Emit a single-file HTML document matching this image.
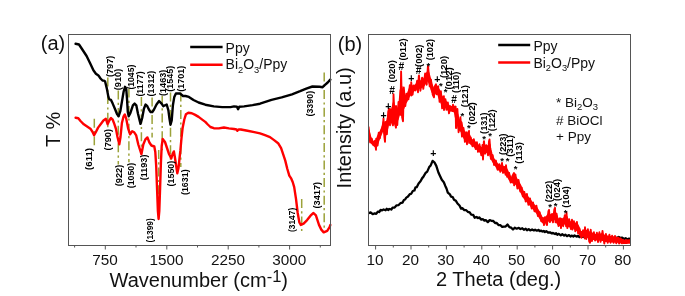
<!DOCTYPE html><html><head><meta charset="utf-8"><style>html,body{margin:0;padding:0;background:#fff;}body{width:685px;height:296px;overflow:hidden;}svg{display:block;filter:blur(0.35px);}</style></head><body><svg width="685" height="296" viewBox="0 0 685 296" font-family='"Liberation Sans", sans-serif' fill="#000">
<rect width="685" height="296" fill="#fff"/>
<defs><clipPath id="cb"><rect x="368.5" y="34.5" width="262" height="211"/></clipPath><clipPath id="ca"><rect x="68.5" y="34.5" width="262" height="211"/></clipPath></defs>
<g stroke="#9ca23a" stroke-width="1.5" stroke-dasharray="9 3.3 2.2 3.1" fill="none">
<line x1="94.3" y1="118.8" x2="94.3" y2="145.2"/>
<line x1="107.8" y1="77.5" x2="107.8" y2="127.6"/>
<line x1="118.3" y1="90.5" x2="118.3" y2="164.4"/>
<line x1="128.9" y1="88.5" x2="128.9" y2="162.3"/>
<line x1="141.4" y1="97" x2="141.4" y2="154"/>
<line x1="152.1" y1="97.5" x2="152.1" y2="137.5"/>
<line x1="158.7" y1="150" x2="158.7" y2="214"/>
<line x1="162.2" y1="96" x2="162.2" y2="150.3"/>
<line x1="170.5" y1="92.5" x2="170.5" y2="160"/>
<line x1="180.8" y1="92.5" x2="180.8" y2="167"/>
<line x1="301.7" y1="199" x2="301.7" y2="232"/>
<line x1="324.2" y1="72.5" x2="324.2" y2="232"/>
</g>
<polyline points="75.6,43.8 79.0,44.5 82.0,49.0 86.6,56.0 90.0,63.0 93.4,70.3 95.9,73.7 98.4,75.4 100.5,78.5 102.5,80.5 104.0,80.6 105.1,81.5 106.8,88.4 108.4,96.9 109.3,99.4 111.0,99.9 112.7,103.6 115.2,109.5 116.9,113.8 118.6,116.3 120.3,111.2 121.9,101.9 123.6,91.8 125.0,86.8 126.2,88.4 127.0,98.6 127.8,112.1 128.7,116.3 130.4,112.9 132.9,105.3 134.6,103.6 136.3,105.3 138.0,113.8 140.5,123.9 142.2,118.0 143.9,108.7 145.6,104.5 147.3,106.2 148.9,109.5 150.6,112.1 152.3,112.1 154.0,109.5 156.5,104.5 159.1,101.1 161.6,103.6 163.3,106.2 165.0,105.3 166.7,104.5 168.4,110.4 169.5,118.8 170.5,124.7 171.7,120.5 172.9,105.3 174.3,96.9 175.9,93.5 180.0,93.5 183.0,96.0 185.5,96.0 188.9,96.9 193.5,100.0 198.6,102.5 205.3,104.7 213.8,106.4 222.2,107.1 230.6,107.1 234.0,106.4 236.9,106.7 238.1,109.2 239.3,106.8 244.1,106.4 252.6,105.1 260.0,103.7 271.5,99.8 281.7,97.4 292.0,94.3 300.1,91.2 306.3,88.6 312.4,86.5 319.6,86.8 322.6,87.2 324.7,85.1 327.7,82.5 330.3,79.6" fill="none" stroke="#000" stroke-width="2.4" stroke-linejoin="round" stroke-linecap="round"/>
<polyline points="75.6,117.7 78.3,118.2 80.5,121.0 83.8,124.3 87.1,126.5 90.4,128.7 92.6,132.0 94.1,135.3 95.9,132.0 98.1,127.6 101.4,123.2 103.4,120.5 105.9,118.8 107.6,124.2 109.3,120.5 111.0,118.0 112.7,119.7 114.3,123.9 116.0,129.0 117.5,137.0 119.3,144.3 120.5,137.0 121.9,123.0 123.6,116.3 124.8,114.5 126.1,118.1 128.1,128.3 130.1,134.3 132.2,131.3 134.2,132.3 136.2,135.4 138.3,144.5 140.3,150.6 141.4,154.2 143.3,144.5 145.4,139.4 147.4,137.4 149.4,142.5 151.4,145.5 154.3,146.5 155.3,152.0 156.2,166.0 157.1,190.0 157.9,211.0 158.6,219.0 159.3,211.0 160.1,188.0 160.9,163.0 161.7,146.0 162.7,139.0 165.0,142.0 167.0,148.0 169.0,154.0 171.3,158.5 172.6,154.0 173.9,151.4 175.0,158.0 176.2,166.0 177.3,173.3 178.5,168.0 179.5,158.5 180.4,150.4 181.5,138.0 182.6,128.0 184.3,119.5 185.9,114.3 188.4,112.7 191.8,113.2 195.2,114.9 198.6,116.9 201.9,119.4 205.3,121.9 207.8,124.5 210.4,127.0 213.8,128.2 218.8,128.4 223.9,127.5 228.9,128.4 234.0,129.0 236.5,129.5 237.4,130.8 238.5,129.5 240.8,129.5 247.5,130.7 254.3,132.1 260.0,133.4 265.0,135.2 270.0,137.1 274.1,140.1 278.1,143.2 281.1,148.2 283.2,154.3 285.2,160.4 287.2,168.5 289.3,175.6 291.3,178.7 292.7,182.0 294.2,187.1 296.0,198.9 297.7,213.0 299.4,222.5 300.8,224.9 303.6,223.7 307.1,220.1 310.7,215.4 313.5,213.0 315.9,215.4 319.0,224.9 321.3,229.6 323.7,232.4 327.2,230.8 329.6,227.2 330.3,225.0" fill="none" stroke="#f00" stroke-width="2.4" stroke-linejoin="round" stroke-linecap="round"/>
<g fill="#000">
<text transform="translate(88.5,169.9) rotate(-90)" x="0" y="0" dominant-baseline="central" font-size="8.7" font-weight="bold" textLength="22.0" lengthAdjust="spacingAndGlyphs">(611)</text>
<text transform="translate(107.6,150.4) rotate(-90)" x="0" y="0" dominant-baseline="central" font-size="8.7" font-weight="bold" textLength="21.4" lengthAdjust="spacingAndGlyphs">(790)</text>
<text transform="translate(109.5,77.1) rotate(-90)" x="0" y="0" dominant-baseline="central" font-size="8.7" font-weight="bold" textLength="21.5" lengthAdjust="spacingAndGlyphs">(797)</text>
<text transform="translate(117.6,90.3) rotate(-90)" x="0" y="0" dominant-baseline="central" font-size="8.7" font-weight="bold" textLength="21.5" lengthAdjust="spacingAndGlyphs">(910)</text>
<text transform="translate(119.4,186.3) rotate(-90)" x="0" y="0" dominant-baseline="central" font-size="8.7" font-weight="bold" textLength="21.5" lengthAdjust="spacingAndGlyphs">(922)</text>
<text transform="translate(130.9,89.6) rotate(-90)" x="0" y="0" dominant-baseline="central" font-size="8.7" font-weight="bold" textLength="24.9" lengthAdjust="spacingAndGlyphs">(1045)</text>
<text transform="translate(130.8,188.3) rotate(-90)" x="0" y="0" dominant-baseline="central" font-size="8.7" font-weight="bold" textLength="25.5" lengthAdjust="spacingAndGlyphs">(1050)</text>
<text transform="translate(140.0,96.6) rotate(-90)" x="0" y="0" dominant-baseline="central" font-size="8.7" font-weight="bold" textLength="25.2" lengthAdjust="spacingAndGlyphs">(1177)</text>
<text transform="translate(143.8,180.2) rotate(-90)" x="0" y="0" dominant-baseline="central" font-size="8.7" font-weight="bold" textLength="25.6" lengthAdjust="spacingAndGlyphs">(1193)</text>
<text transform="translate(150.5,96.4) rotate(-90)" x="0" y="0" dominant-baseline="central" font-size="8.7" font-weight="bold" textLength="25.6" lengthAdjust="spacingAndGlyphs">(1312)</text>
<text transform="translate(150.4,242.4) rotate(-90)" x="0" y="0" dominant-baseline="central" font-size="8.7" font-weight="bold" textLength="24.2" lengthAdjust="spacingAndGlyphs">(1399)</text>
<text transform="translate(162.6,95.9) rotate(-90)" x="0" y="0" dominant-baseline="central" font-size="8.7" font-weight="bold" textLength="26.1" lengthAdjust="spacingAndGlyphs">(1463)</text>
<text transform="translate(170.3,91.8) rotate(-90)" x="0" y="0" dominant-baseline="central" font-size="8.7" font-weight="bold" textLength="26.0" lengthAdjust="spacingAndGlyphs">(1545)</text>
<text transform="translate(171.1,186.4) rotate(-90)" x="0" y="0" dominant-baseline="central" font-size="8.7" font-weight="bold" textLength="25.6" lengthAdjust="spacingAndGlyphs">(1550)</text>
<text transform="translate(184.8,195.0) rotate(-90)" x="0" y="0" dominant-baseline="central" font-size="8.7" font-weight="bold" textLength="25.6" lengthAdjust="spacingAndGlyphs">(1631)</text>
<text transform="translate(180.9,91.8) rotate(-90)" x="0" y="0" dominant-baseline="central" font-size="8.7" font-weight="bold" textLength="26.0" lengthAdjust="spacingAndGlyphs">(1701)</text>
<text transform="translate(291.8,232.1) rotate(-90)" x="0" y="0" dominant-baseline="central" font-size="8.7" font-weight="bold" textLength="24.4" lengthAdjust="spacingAndGlyphs">(3147)</text>
<text transform="translate(310.1,116.5) rotate(-90)" x="0" y="0" dominant-baseline="central" font-size="8.7" font-weight="bold" textLength="25.6" lengthAdjust="spacingAndGlyphs">(3390)</text>
<text transform="translate(316.7,208.5) rotate(-90)" x="0" y="0" dominant-baseline="central" font-size="8.7" font-weight="bold" textLength="26.7" lengthAdjust="spacingAndGlyphs">(3417)</text>
</g>
<rect x="68.5" y="34.5" width="262.0" height="211.0" fill="none" stroke="#555" stroke-width="1"/>
<line x1="105.3" y1="245.5" x2="105.3" y2="249.5" stroke="#555" stroke-width="1"/>
<text x="105.0" y="264.8" text-anchor="middle" font-size="15.3" fill="#111">750</text>
<line x1="166.8" y1="245.5" x2="166.8" y2="249.5" stroke="#555" stroke-width="1"/>
<text x="166.4" y="264.8" text-anchor="middle" font-size="15.3" fill="#111">1500</text>
<line x1="228.2" y1="245.5" x2="228.2" y2="249.5" stroke="#555" stroke-width="1"/>
<text x="227.9" y="264.8" text-anchor="middle" font-size="15.3" fill="#111">2250</text>
<line x1="289.6" y1="245.5" x2="289.6" y2="249.5" stroke="#555" stroke-width="1"/>
<text x="289.3" y="264.8" text-anchor="middle" font-size="15.3" fill="#111">3000</text>
<line x1="74.6" y1="245.5" x2="74.6" y2="247.5" stroke="#555" stroke-width="1"/>
<line x1="136.0" y1="245.5" x2="136.0" y2="247.5" stroke="#555" stroke-width="1"/>
<line x1="197.5" y1="245.5" x2="197.5" y2="247.5" stroke="#555" stroke-width="1"/>
<line x1="258.9" y1="245.5" x2="258.9" y2="247.5" stroke="#555" stroke-width="1"/>
<line x1="320.3" y1="245.5" x2="320.3" y2="247.5" stroke="#555" stroke-width="1"/>
<text x="109.6" y="286.8" font-size="20" fill="#111">Wavenumber (cm<tspan dy="-4.6" font-size="16.5">-1</tspan><tspan dy="4.6">)</tspan></text>
<text transform="translate(60.2,147.0) rotate(-90)" font-size="20" fill="#111">T %</text>
<text x="40.8" y="49.6" font-size="20" fill="#111">(a)</text>
<line x1="190.2" y1="47.1" x2="222.6" y2="47.1" stroke="#000" stroke-width="2.5"/>
<line x1="190.2" y1="64.7" x2="222.6" y2="64.7" stroke="#f00" stroke-width="2.5"/>
<text x="225.6" y="53.0" font-size="14" fill="#111">Ppy</text>
<text x="225.6" y="69.2" font-size="14" fill="#111">Bi<tspan font-size="9.3" dy="3.4">2</tspan><tspan dy="-3.4">O</tspan><tspan font-size="9.3" dy="3.4">3</tspan><tspan dy="-3.4">/Ppy</tspan></text>
<polyline points="368.8,213.3 370.6,212.4 372.7,214.2 374.7,213.3 376.2,213.8 378.0,211.6 379.2,212.0 380.6,210.0 382.2,210.3 383.6,209.5 385.6,210.3 386.8,208.8 388.1,210.0 389.3,209.0 391.3,209.5 392.6,207.6 394.6,207.5 396.6,205.3 398.4,205.2 400.4,203.2 402.5,202.6 403.9,200.0 405.1,199.5 406.3,197.6 408.0,196.5 409.8,194.1 411.2,193.8 412.8,191.0 414.4,190.5 415.5,187.4 416.7,187.2 418.6,183.4 420.5,181.3 422.2,178.1 423.3,176.9 425.4,173.2 427.2,171.6 429.2,167.1 430.7,165.4 432.6,160.9 434.4,162.3 436.3,165.9 438.4,172.5 439.8,175.5 441.8,179.8 443.8,182.2 445.3,185.9 446.5,188.5 447.8,192.6 449.9,194.4 451.1,196.7 452.7,197.1 454.0,199.7 455.9,200.8 457.5,203.5 459.5,205.5 461.1,208.6 462.3,208.2 464.3,210.1 466.2,210.2 467.8,211.8 469.7,212.4 471.2,214.6 473.2,214.9 474.7,217.7 476.6,217.0 478.0,218.1 479.2,217.4 481.3,219.6 483.0,219.2 484.4,220.6 485.8,220.2 487.8,222.1 489.7,220.1 491.4,220.8 493.3,221.0 495.1,223.0 496.7,222.9 498.5,225.1 500.5,225.2 502.2,226.9 503.8,226.6 505.6,226.6 507.5,224.5 509.4,227.1 511.1,227.7 513.0,229.5 514.9,227.7 516.7,228.7 518.8,227.8 520.4,229.0 522.3,228.2 523.9,229.8 525.7,228.8 527.0,230.2 528.7,229.1 530.2,230.4 532.1,229.4 533.9,230.4 535.1,229.7 536.9,230.7 538.7,229.9 539.8,231.2 541.2,230.6 542.4,231.5 543.7,231.0 544.9,232.0 546.3,231.2 548.0,232.5 550.0,232.3 551.5,233.3 553.0,233.0 555.0,234.1 556.1,233.3 557.3,234.7 558.8,233.8 560.8,235.4 562.3,234.3 564.1,235.6 565.3,234.7 567.0,236.2 569.0,235.1 570.5,236.5 571.6,235.6 573.3,236.5 574.5,235.5 576.5,236.6 578.0,235.9 579.4,237.1 580.9,235.5 582.9,236.9 584.3,235.5 585.9,236.8 587.3,235.6 588.9,237.1 590.5,236.6 592.2,237.7 593.6,236.8 595.5,238.0 597.1,237.4 599.2,238.6 600.5,237.7 601.8,238.9 603.2,237.6 604.8,238.7 606.5,237.3 607.7,238.6 609.1,237.3 610.6,238.1 612.2,237.2 613.6,238.3 615.3,237.4 616.7,238.1 618.7,236.9 620.3,238.0 622.2,237.6 623.9,239.0 625.6,238.2 627.6,239.5 629.1,238.6 630.3,239.2" fill="none" stroke="#000" stroke-width="2.3" stroke-linejoin="round"/>
<g clip-path="url(#cb)">
<polygon points="368.5,130.3 369.5,134.1 370.5,137.8 371.5,139.6 372.5,141.3 373.5,142.2 374.5,142.2 375.5,142.2 376.5,140.6 377.5,137.5 378.5,135.1 379.5,133.5 380.5,131.6 381.5,129.6 382.5,126.4 383.5,121.9 384.5,126.5 385.5,127.0 386.5,123.5 387.5,119.6 388.5,115.3 389.5,113.3 390.5,112.8 391.5,110.7 392.5,107.6 393.5,103.1 394.5,111.1 395.5,111.1 396.5,111.2 397.5,110.7 398.5,107.1 399.5,103.3 400.5,90.8 401.5,86.8 402.5,91.5 403.5,94.2 404.5,95.9 405.5,96.1 406.5,95.9 407.5,94.3 408.5,92.0 409.5,89.2 410.5,87.2 411.5,86.3 412.5,86.5 413.5,86.6 414.5,86.3 415.5,85.3 416.5,84.1 417.5,82.6 418.5,81.0 419.5,80.6 420.5,81.7 421.5,81.6 422.5,80.4 423.5,79.7 424.5,78.4 425.5,76.0 426.5,74.0 427.5,72.3 428.5,72.9 429.5,76.5 430.5,80.3 431.5,84.1 432.5,87.0 433.5,88.8 434.5,89.1 435.5,87.7 436.5,87.3 437.5,88.0 438.5,89.3 439.5,91.3 440.5,93.6 441.5,96.0 442.5,97.8 443.5,98.9 444.5,99.9 445.5,101.2 446.5,102.8 447.5,104.1 448.5,105.5 449.5,106.5 450.5,107.0 451.5,106.9 452.5,106.7 453.5,106.6 454.5,106.7 455.5,109.6 456.5,111.8 457.5,114.8 458.5,119.3 459.5,121.0 460.5,121.9 461.5,122.4 462.5,128.5 463.5,130.4 464.5,132.2 465.5,133.7 466.5,135.5 467.5,136.0 468.5,134.7 469.5,135.6 470.5,138.5 471.5,140.1 472.5,140.2 473.5,140.8 474.5,141.9 475.5,143.0 476.5,144.1 477.5,145.0 478.5,145.7 479.5,146.5 480.5,147.5 481.5,148.1 482.5,148.0 483.5,146.2 484.5,145.4 485.5,146.7 486.5,147.1 487.5,146.6 488.5,145.8 489.5,144.6 490.5,149.8 491.5,153.8 492.5,156.6 493.5,158.7 494.5,160.2 495.5,161.7 496.5,163.2 497.5,164.4 498.5,165.3 499.5,165.9 500.5,166.3 501.5,166.0 502.5,166.2 503.5,167.4 504.5,168.1 505.5,168.1 506.5,169.2 507.5,171.3 508.5,173.5 509.5,175.5 510.5,177.1 511.5,178.1 512.5,178.1 513.5,177.2 514.5,177.0 515.5,177.6 516.5,178.9 517.5,180.9 518.5,182.6 519.5,184.0 520.5,186.0 521.5,188.4 522.5,190.5 523.5,192.3 524.5,193.8 525.5,195.0 526.5,196.0 527.5,197.0 528.5,198.1 529.5,199.3 530.5,200.8 531.5,202.4 532.5,203.7 533.5,204.6 534.5,205.6 535.5,206.7 536.5,208.1 537.5,209.6 538.5,211.3 539.5,213.1 540.5,215.0 541.5,217.0 542.5,218.4 543.5,219.3 544.5,219.0 545.5,217.8 546.5,216.9 547.5,215.7 548.5,214.3 549.5,214.3 550.5,215.5 551.5,215.8 552.5,215.0 553.5,213.9 554.5,212.4 555.5,213.2 556.5,216.2 557.5,218.3 558.5,219.6 559.5,220.4 560.5,220.8 561.5,220.6 562.5,219.9 563.5,219.0 564.5,217.9 565.5,217.1 566.5,216.6 567.5,219.3 568.5,221.1 569.5,222.0 570.5,222.4 571.5,222.3 572.5,222.5 573.5,222.7 574.5,223.2 575.5,223.8 576.5,224.4 577.5,225.0 578.5,227.0 579.5,230.3 580.5,232.0 581.5,232.0 582.5,231.8 583.5,231.2 584.5,230.6 585.5,230.5 586.5,230.9 587.5,231.3 588.5,231.8 589.5,232.5 590.5,233.0 591.5,233.3 592.5,233.7 593.5,234.2 594.5,234.7 595.5,234.9 596.5,234.8 597.5,234.7 598.5,234.6 599.5,234.5 600.5,234.4 601.5,234.3 602.5,234.2 603.5,235.1 604.5,236.0 605.5,236.5 606.5,236.5 607.5,236.6 608.5,236.7 609.5,236.8 610.5,236.9 611.5,237.1 612.5,237.2 613.5,237.4 614.5,237.6 615.5,237.8 616.5,237.9 617.5,238.1 618.5,238.3 619.5,238.4 620.5,239.0 621.5,239.9 622.5,240.4 623.5,240.6 624.5,240.7 625.5,240.8 626.5,240.6 627.5,240.5 628.5,240.4 629.5,240.3 630.3,240.3 630.3,242.8 629.5,242.8 628.5,242.8 627.5,242.8 626.5,242.9 625.5,243.0 624.5,242.9 623.5,242.9 622.5,242.8 621.5,242.6 620.5,242.2 619.5,242.0 618.5,241.9 617.5,241.8 616.5,241.7 615.5,241.7 614.5,241.6 613.5,241.5 612.5,241.4 611.5,241.4 610.5,241.3 609.5,241.3 608.5,241.2 607.5,241.2 606.5,241.1 605.5,241.1 604.5,240.8 603.5,240.4 602.5,239.9 601.5,239.8 600.5,239.7 599.5,239.6 598.5,239.5 597.5,239.4 596.5,239.4 595.5,239.3 594.5,239.1 593.5,238.9 592.5,238.7 591.5,238.7 590.5,238.9 589.5,238.4 588.5,237.2 587.5,236.5 586.5,236.1 585.5,235.7 584.5,235.6 583.5,235.8 582.5,236.0 581.5,235.9 580.5,235.6 579.5,234.2 578.5,231.8 577.5,230.3 576.5,229.8 575.5,229.1 574.5,228.2 573.5,227.6 572.5,227.2 571.5,227.0 570.5,226.7 569.5,226.4 568.5,226.0 567.5,225.0 566.5,223.5 565.5,223.3 564.5,223.4 563.5,223.8 562.5,224.5 561.5,225.2 560.5,225.4 559.5,225.0 558.5,224.3 557.5,223.3 556.5,221.6 555.5,219.3 554.5,218.5 553.5,219.3 552.5,219.9 551.5,220.3 550.5,220.3 549.5,219.9 548.5,220.3 547.5,221.3 546.5,221.9 545.5,222.1 544.5,222.8 543.5,222.8 542.5,221.9 541.5,220.5 540.5,218.7 539.5,217.1 538.5,215.4 537.5,213.8 536.5,212.3 535.5,211.0 534.5,209.8 533.5,208.8 532.5,207.7 531.5,206.5 530.5,205.2 529.5,203.9 528.5,202.7 527.5,201.6 526.5,200.5 525.5,199.3 524.5,198.1 523.5,196.5 522.5,194.5 521.5,192.5 520.5,190.4 519.5,188.7 518.5,187.3 517.5,185.9 516.5,184.5 515.5,183.5 514.5,183.0 513.5,182.6 512.5,182.4 511.5,181.8 510.5,181.0 509.5,179.5 508.5,177.6 507.5,175.7 506.5,174.0 505.5,172.8 504.5,172.2 503.5,171.6 502.5,170.7 501.5,170.4 500.5,170.2 499.5,169.9 498.5,169.1 497.5,168.1 496.5,166.8 495.5,165.3 494.5,163.8 493.5,162.3 492.5,160.5 491.5,158.3 490.5,155.8 489.5,152.8 488.5,152.6 487.5,152.2 486.5,151.8 485.5,151.3 484.5,150.8 483.5,152.7 482.5,154.4 481.5,153.3 480.5,152.2 479.5,151.0 478.5,149.9 477.5,149.2 476.5,148.4 475.5,147.5 474.5,146.5 473.5,145.4 472.5,144.7 471.5,144.4 470.5,143.1 469.5,140.7 468.5,140.0 467.5,141.0 466.5,140.8 465.5,139.6 464.5,138.2 463.5,136.3 462.5,134.4 461.5,131.2 460.5,130.6 459.5,129.5 458.5,127.7 457.5,122.5 456.5,120.2 455.5,115.9 454.5,110.0 453.5,110.1 452.5,110.2 451.5,110.3 450.5,110.5 449.5,110.8 448.5,110.1 447.5,108.8 446.5,107.4 445.5,106.0 444.5,105.7 443.5,105.6 442.5,104.6 441.5,102.9 440.5,100.5 439.5,97.9 438.5,95.3 437.5,93.4 436.5,92.4 435.5,92.5 434.5,93.9 433.5,93.8 432.5,92.2 431.5,89.7 430.5,86.1 429.5,83.1 428.5,80.8 427.5,80.2 426.5,80.9 425.5,82.3 424.5,84.3 423.5,85.6 422.5,86.3 421.5,87.2 420.5,87.7 419.5,87.5 418.5,87.8 417.5,88.4 416.5,88.6 415.5,89.1 414.5,90.0 413.5,90.8 412.5,91.8 411.5,92.6 410.5,93.6 409.5,95.2 408.5,96.9 407.5,99.2 406.5,101.4 405.5,102.7 404.5,105.1 403.5,108.3 402.5,107.9 401.5,103.6 400.5,105.3 399.5,112.9 398.5,116.5 397.5,119.6 396.5,120.9 395.5,120.0 394.5,119.2 393.5,116.1 392.5,117.6 391.5,117.8 390.5,119.3 389.5,120.5 388.5,122.6 387.5,127.3 386.5,131.4 385.5,135.0 384.5,133.8 383.5,127.8 382.5,130.3 381.5,132.8 380.5,135.2 379.5,137.7 378.5,140.5 377.5,143.1 376.5,145.7 375.5,146.6 374.5,145.7 373.5,144.9 372.5,143.9 371.5,142.8 370.5,141.7 369.5,139.2 368.5,136.7" fill="#f00" stroke="#f00" stroke-width="2" stroke-linejoin="round"/>
<polyline points="368.5,126.5 370.2,142.4 371.7,138.6 373.4,144.9 374.9,140.8 376.0,149.7 376.2,138.8 377.6,145.5 378.7,132.8 379.9,138.2 381.0,130.1 382.7,131.1 383.5,118.4 384.4,137.2 385.0,141.8 385.7,121.9 386.9,134.1 388.2,112.0 389.0,108.8 390.0,125.3 390.0,109.0 391.9,122.6 393.0,125.3 393.5,95.0 393.5,94.3 394.9,123.8 396.0,127.7 396.0,105.9 397.3,125.0 398.5,102.0 400.4,114.8 401.1,71.4 402.1,117.0 403.0,121.3 403.8,87.5 405.3,106.1 406.5,93.7 408.4,99.3 409.8,85.3 411.2,95.6 411.2,82.3 412.6,94.7 413.7,85.4 415.6,90.4 417.1,80.8 418.0,92.2 418.8,76.1 419.0,75.5 420.4,90.7 422.1,77.7 423.3,88.8 425.1,73.5 426.7,84.8 427.9,66.6 428.1,66.0 429.7,86.4 431.0,79.8 432.7,94.5 434.0,97.3 434.6,86.7 436.0,84.3 436.6,94.2 438.1,86.2 439.6,101.9 440.9,91.3 442.1,108.4 443.9,96.2 444.0,110.1 445.4,99.2 446.4,109.7 447.8,102.4 449.0,113.3 449.0,113.4 450.3,106.1 452.3,111.1 453.0,104.7 453.7,111.4 455.6,106.6 456.0,128.1 457.4,109.0 458.6,132.2 460.4,117.3 462.0,136.6 463.5,128.0 464.9,141.8 466.1,132.3 467.0,144.3 467.2,134.4 469.0,130.9 469.1,142.9 470.7,137.5 472.5,146.4 473.8,139.1 475.7,149.0 476.9,142.3 478.0,151.8 479.5,144.3 481.3,155.3 482.5,144.9 483.0,159.5 483.8,142.3 484.0,141.3 485.1,153.7 486.3,145.2 488.0,155.4 489.0,141.2 489.5,139.4 490.9,158.9 492.6,155.0 494.1,165.0 495.9,160.6 497.5,169.7 499.2,164.2 500.3,171.8 501.6,164.5 502.0,162.9 503.0,172.9 504.5,167.0 505.6,174.8 506.0,165.3 507.1,176.7 509.1,172.9 510.7,182.5 512.3,176.3 514.0,173.0 514.1,185.3 515.4,174.5 517.4,188.6 518.5,180.0 520.3,191.5 521.7,187.7 522.8,196.4 524.3,191.9 525.7,201.5 526.9,194.0 528.4,204.8 530.0,198.5 531.7,208.5 533.0,202.4 534.5,211.4 536.4,205.7 537.9,216.1 539.6,212.2 541.3,221.2 543.1,218.0 544.0,225.1 544.9,217.2 546.6,224.6 547.0,225.0 548.4,211.3 549.0,209.9 550.0,222.1 552.0,214.0 553.0,222.3 554.3,209.6 555.0,207.8 555.5,222.3 556.6,213.8 558.5,226.1 560.0,218.2 561.0,228.1 561.9,218.7 563.2,226.2 564.8,215.1 566.1,226.2 566.5,212.4 567.4,228.1 569.2,219.3 570.9,229.0 572.0,219.7 572.5,229.6 573.9,221.2 575.3,231.4 576.9,221.9 578.1,233.3 579.4,228.3 581.4,237.7 583.1,230.1 584.8,238.5 585.0,227.3 586.3,239.0 587.9,229.3 589.2,241.4 590.0,242.7 590.7,229.7 592.0,241.1 593.9,232.3 595.1,240.6 596.9,232.8 598.0,242.0 599.4,232.3 600.6,241.9 602.4,232.0 602.5,230.9 604.3,243.5 605.9,234.0 607.7,242.8 609.4,234.6 610.5,242.7 612.1,235.7 613.6,242.7 615.0,235.9 616.3,243.3 618.0,237.4 619.1,243.6 620.6,238.4 621.8,243.4 622.9,239.7 624.4,242.9 626.0,240.1 627.2,242.6 628.7,239.9" fill="none" stroke="#f00" stroke-width="1.9" stroke-linejoin="round"/>
</g>
<g fill="#000">
<text transform="translate(392.2,82.4) rotate(-90)" x="0" y="0" dominant-baseline="central" font-size="8.7" font-weight="bold" textLength="22.2" lengthAdjust="spacingAndGlyphs">(020)</text>
<text transform="translate(403.0,60.6) rotate(-90)" x="0" y="0" dominant-baseline="central" font-size="8.7" font-weight="bold" textLength="22.2" lengthAdjust="spacingAndGlyphs">(012)</text>
<text transform="translate(419.3,66.9) rotate(-90)" x="0" y="0" dominant-baseline="central" font-size="8.7" font-weight="bold" textLength="22.3" lengthAdjust="spacingAndGlyphs">(002)</text>
<text transform="translate(430.3,60.3) rotate(-90)" x="0" y="0" dominant-baseline="central" font-size="8.7" font-weight="bold" textLength="21.3" lengthAdjust="spacingAndGlyphs">(102)</text>
<text transform="translate(443.7,78.1) rotate(-90)" x="0" y="0" dominant-baseline="central" font-size="8.7" font-weight="bold" textLength="22.2" lengthAdjust="spacingAndGlyphs">(120)</text>
<text transform="translate(449.1,89.6) rotate(-90)" x="0" y="0" dominant-baseline="central" font-size="8.7" font-weight="bold" textLength="22.4" lengthAdjust="spacingAndGlyphs">(012)</text>
<text transform="translate(455.7,93.0) rotate(-90)" x="0" y="0" dominant-baseline="central" font-size="8.7" font-weight="bold" textLength="21.5" lengthAdjust="spacingAndGlyphs">(110)</text>
<text transform="translate(464.9,107.2) rotate(-90)" x="0" y="0" dominant-baseline="central" font-size="8.7" font-weight="bold" textLength="22.2" lengthAdjust="spacingAndGlyphs">(121)</text>
<text transform="translate(471.6,124.8) rotate(-90)" x="0" y="0" dominant-baseline="central" font-size="8.7" font-weight="bold" textLength="22.6" lengthAdjust="spacingAndGlyphs">(022)</text>
<text transform="translate(484.3,133.9) rotate(-90)" x="0" y="0" dominant-baseline="central" font-size="8.7" font-weight="bold" textLength="21.4" lengthAdjust="spacingAndGlyphs">(131)</text>
<text transform="translate(491.6,131.2) rotate(-90)" x="0" y="0" dominant-baseline="central" font-size="8.7" font-weight="bold" textLength="21.8" lengthAdjust="spacingAndGlyphs">(122)</text>
<text transform="translate(502.7,154.9) rotate(-90)" x="0" y="0" dominant-baseline="central" font-size="8.7" font-weight="bold" textLength="21.4" lengthAdjust="spacingAndGlyphs">(223)</text>
<text transform="translate(510.1,156.8) rotate(-90)" x="0" y="0" dominant-baseline="central" font-size="8.7" font-weight="bold" textLength="21.8" lengthAdjust="spacingAndGlyphs">(311)</text>
<text transform="translate(519.0,163.7) rotate(-90)" x="0" y="0" dominant-baseline="central" font-size="8.7" font-weight="bold" textLength="21.5" lengthAdjust="spacingAndGlyphs">(113)</text>
<text transform="translate(548.6,202.3) rotate(-90)" x="0" y="0" dominant-baseline="central" font-size="8.7" font-weight="bold" textLength="21.5" lengthAdjust="spacingAndGlyphs">(222)</text>
<text transform="translate(556.8,200.9) rotate(-90)" x="0" y="0" dominant-baseline="central" font-size="8.7" font-weight="bold" textLength="21.9" lengthAdjust="spacingAndGlyphs">(024)</text>
<text transform="translate(565.6,207.7) rotate(-90)" x="0" y="0" dominant-baseline="central" font-size="8.7" font-weight="bold" textLength="21.5" lengthAdjust="spacingAndGlyphs">(104)</text>
<text x="383.6" y="119.3" text-anchor="middle" font-size="10.5" font-weight="bold">+</text>
<text x="388.3" y="110.0" text-anchor="middle" font-size="10.5" font-weight="bold">+</text>
<text x="392.2" y="93.8" text-anchor="middle" font-size="10.2" font-weight="bold">#</text>
<text x="401.3" y="69.9" text-anchor="middle" font-size="10.2" font-weight="bold">#</text>
<text x="411.2" y="81.5" text-anchor="middle" font-size="10.5" font-weight="bold">+</text>
<text x="418.6" y="74.4" text-anchor="middle" font-size="10.2" font-weight="bold">#</text>
<text x="428.4" y="68.5" text-anchor="middle" font-size="9.5" font-weight="bold">*</text>
<text x="437.4" y="83.1" text-anchor="middle" font-size="10.5" font-weight="bold">+</text>
<text x="440.8" y="89.4" text-anchor="middle" font-size="9.5" font-weight="bold">*</text>
<text x="445.5" y="94.9" text-anchor="middle" font-size="9.5" font-weight="bold">*</text>
<text x="454.2" y="103.2" text-anchor="middle" font-size="10.2" font-weight="bold">#</text>
<text x="462.3" y="118.9" text-anchor="middle" font-size="9.5" font-weight="bold">*</text>
<text x="468.9" y="130.6" text-anchor="middle" font-size="9.5" font-weight="bold">*</text>
<text x="484.1" y="142.1" text-anchor="middle" font-size="9.5" font-weight="bold">*</text>
<text x="490.2" y="139.4" text-anchor="middle" font-size="9.5" font-weight="bold">*</text>
<text x="502.1" y="163.8" text-anchor="middle" font-size="9.5" font-weight="bold">*</text>
<text x="507.5" y="163.8" text-anchor="middle" font-size="9.5" font-weight="bold">*</text>
<text x="515.6" y="171.9" text-anchor="middle" font-size="9.5" font-weight="bold">*</text>
<text x="550.1" y="210.4" text-anchor="middle" font-size="9.5" font-weight="bold">*</text>
<text x="555.5" y="209.1" text-anchor="middle" font-size="9.5" font-weight="bold">*</text>
<text x="565.7" y="215.8" text-anchor="middle" font-size="9.5" font-weight="bold">*</text>
<text x="433.4" y="156.8" text-anchor="middle" font-size="10.5" font-weight="bold">+</text>
</g>
<rect x="368.5" y="34.5" width="262.0" height="211.0" fill="none" stroke="#555" stroke-width="1"/>
<line x1="375.6" y1="245.5" x2="375.6" y2="249.5" stroke="#555" stroke-width="1"/>
<text x="375.0" y="264.5" text-anchor="middle" font-size="15.3" fill="#111">10</text>
<line x1="411.0" y1="245.5" x2="411.0" y2="249.5" stroke="#555" stroke-width="1"/>
<text x="410.4" y="264.5" text-anchor="middle" font-size="15.3" fill="#111">20</text>
<line x1="446.4" y1="245.5" x2="446.4" y2="249.5" stroke="#555" stroke-width="1"/>
<text x="445.8" y="264.5" text-anchor="middle" font-size="15.3" fill="#111">30</text>
<line x1="481.8" y1="245.5" x2="481.8" y2="249.5" stroke="#555" stroke-width="1"/>
<text x="481.2" y="264.5" text-anchor="middle" font-size="15.3" fill="#111">40</text>
<line x1="517.2" y1="245.5" x2="517.2" y2="249.5" stroke="#555" stroke-width="1"/>
<text x="516.6" y="264.5" text-anchor="middle" font-size="15.3" fill="#111">50</text>
<line x1="552.6" y1="245.5" x2="552.6" y2="249.5" stroke="#555" stroke-width="1"/>
<text x="552.0" y="264.5" text-anchor="middle" font-size="15.3" fill="#111">60</text>
<line x1="588.0" y1="245.5" x2="588.0" y2="249.5" stroke="#555" stroke-width="1"/>
<text x="587.4" y="264.5" text-anchor="middle" font-size="15.3" fill="#111">70</text>
<line x1="623.4" y1="245.5" x2="623.4" y2="249.5" stroke="#555" stroke-width="1"/>
<text x="622.8" y="264.5" text-anchor="middle" font-size="15.3" fill="#111">80</text>
<line x1="393.3" y1="245.5" x2="393.3" y2="247.5" stroke="#555" stroke-width="1"/>
<line x1="428.7" y1="245.5" x2="428.7" y2="247.5" stroke="#555" stroke-width="1"/>
<line x1="464.1" y1="245.5" x2="464.1" y2="247.5" stroke="#555" stroke-width="1"/>
<line x1="499.5" y1="245.5" x2="499.5" y2="247.5" stroke="#555" stroke-width="1"/>
<line x1="534.9" y1="245.5" x2="534.9" y2="247.5" stroke="#555" stroke-width="1"/>
<line x1="570.3" y1="245.5" x2="570.3" y2="247.5" stroke="#555" stroke-width="1"/>
<line x1="605.7" y1="245.5" x2="605.7" y2="247.5" stroke="#555" stroke-width="1"/>
<text x="436.0" y="285.5" font-size="20" fill="#111">2 Theta (deg.)</text>
<text transform="translate(351.3,188.4) rotate(-90)" font-size="20" fill="#111">Intensity (a.u)</text>
<text x="337.8" y="50.7" font-size="20" fill="#111">(b)</text>
<line x1="498.2" y1="45" x2="530.2" y2="45" stroke="#000" stroke-width="2.5"/>
<line x1="498.2" y1="62.5" x2="530.2" y2="62.5" stroke="#f00" stroke-width="2.5"/>
<text x="533.4" y="51.0" font-size="14" fill="#111">Ppy</text>
<text x="533.4" y="67.7" font-size="14" fill="#111">Bi<tspan font-size="9.3" dy="3.4">2</tspan><tspan dy="-3.4">O</tspan><tspan font-size="9.3" dy="3.4">3</tspan><tspan dy="-3.4">/Ppy</tspan></text>
<text x="556" y="106.6" font-size="13.5" fill="#111">* Bi<tspan font-size="9.5" dy="3">2</tspan><tspan dy="-3">O</tspan><tspan font-size="9.5" dy="3">3</tspan></text>
<text x="556" y="125.4" font-size="13.5" fill="#111"># BiOCl</text>
<text x="556" y="140.6" font-size="13.5" fill="#111">+ Ppy</text>
</svg></body></html>
